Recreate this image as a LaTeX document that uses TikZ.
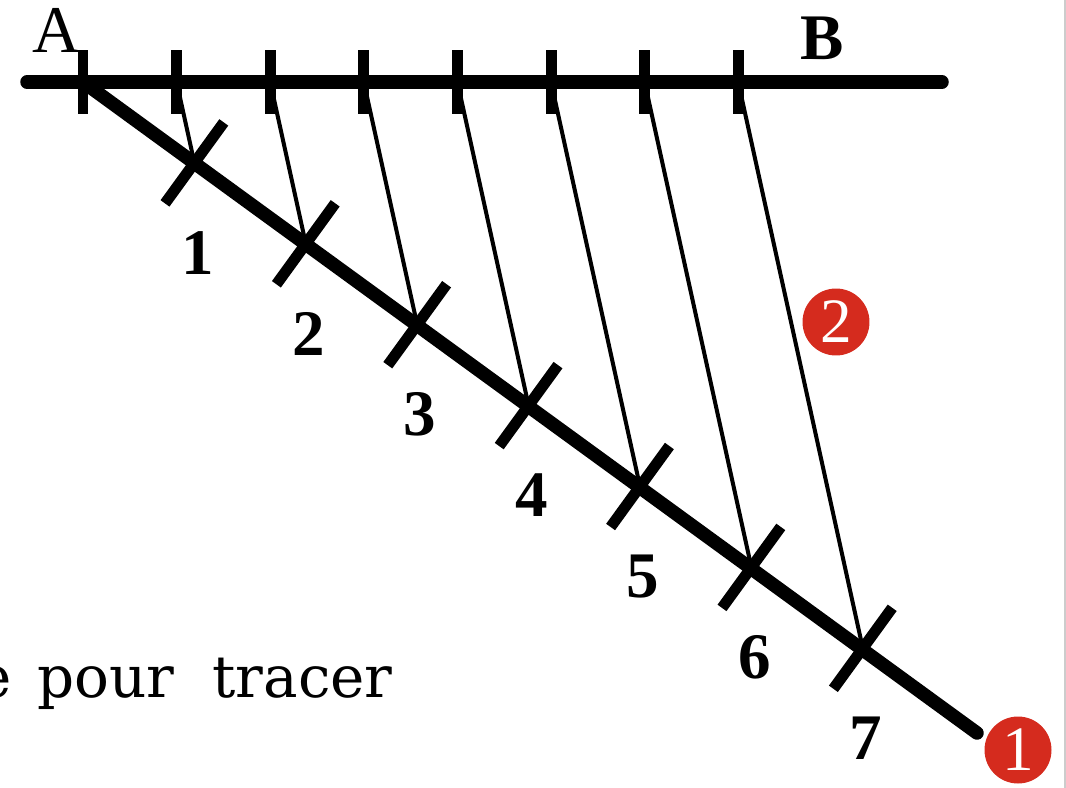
\documentclass[tikz,border=0pt]{standalone}
\usepackage{fontspec}
\usepackage{tikz}
\usetikzlibrary{calc}
\newfontfamily\labelfont{Liberation Serif}
\newfontfamily\phrasefont{DejaVu Serif}
\definecolor{badgeRed}{HTML}{D52B1E}

\begin{document}
\begin{tikzpicture}[x=0.02cm, y=-0.02cm,
    mainLine/.style={line width=0.27cm, line cap=round},
    tickMark/.style={line width=0.22cm},
    thinLine/.style={line width=0.08cm},
    numLabel/.style={font=\labelfont\bfseries\fontsize{37}{40}\selectfont, inner sep=0},
    redBadge/.style={circle, fill=badgeRed, text=white, inner sep=0, minimum size=1.34cm, font=\labelfont\fontsize{36}{38}\selectfont}
]
    \useasboundingbox (0,0) rectangle (1066,788);
    \clip (0,0) rectangle (1066,788);

    % points on AB and on the oblique line
    \coordinate (left) at (27,82);
    \coordinate (right) at (942,82);
    \coordinate (end) at (977,733);
    \foreach \i in {0,...,7} {
        \coordinate (t\i) at ({83+93.6*\i},82);
        \coordinate (d\i) at ({83+111.4*\i},{82+80.9*\i});
    }

    % parallels
    \foreach \i in {1,...,7} {
        \draw[thinLine] (t\i) -- (d\i);
    }

    \draw[mainLine] (left) -- (right);
    \draw[mainLine] (d0) -- (end);

    % graduations
    \foreach \i in {0,...,7} {
        \draw[tickMark] ($(t\i)+(0,-32)$) -- ($(t\i)+(0,32)$);
    }
    \foreach \i in {1,...,7} {
        \draw[tickMark] ($(d\i)+(29.4,-40.5)$) -- ($(d\i)+(-29.4,40.5)$);
        \node[numLabel] (n\i) at ($(d\i)+(3,90)$) {\i};
    }

    \node[font=\labelfont\fontsize{38}{40}\selectfont, inner sep=0] (labA) at (57,30) {A};
    \node[numLabel] (labB) at (822,38) {B};

    \node[redBadge] (badge2) at (836,322) {2};
    \node[redBadge] (badge1) at (1018,750) {1};

    \node[font=\phrasefont\fontsize{33}{40}\selectfont, inner sep=0, anchor=base east] (phrase) at (393,697) {e\hspace{0.52cm}pour\hspace{0.76cm}tracer};

    \draw[gray!40, line width=0.03cm] (1065,0) -- (1065,788);
\end{tikzpicture}
\end{document}
